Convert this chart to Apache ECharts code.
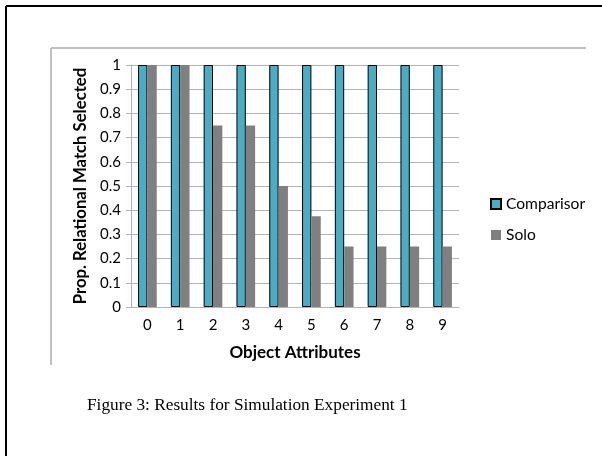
<!DOCTYPE html>
<html>
<head>
<meta charset="utf-8">
<script src="https://cdn.jsdelivr.net/npm/echarts@6/dist/echarts.min.js"></script>
<style>
  html, body { margin: 0; padding: 0; background: #fff; }
  #chart { width: 602px; height: 456px; }
</style>
</head>
<body>
<div id="chart"></div>
<script>
const categories = ["0", "1", "2", "3", "4", "5", "6", "7", "8", "9"];
const comparisor = [1, 1, 1, 1, 1, 1, 1, 1, 1, 1];
const solo = [1, 1, 0.75, 0.75, 0.5, 0.375, 0.25, 0.25, 0.25, 0.25];
const caption = "Figure 3: Results for Simulation Experiment 1";

const chart = echarts.init(document.getElementById("chart"));
const font = "Lato";
const gridColor = "#B4B4B4";

const option = {
  animation: false,
  textStyle: { fontFamily: font },
  graphic: [
    // page frame
    { type: "line", shape: { x1: 6, y1: 6, x2: 602, y2: 6 }, style: { stroke: "#000", lineWidth: 2 } },
    { type: "line", shape: { x1: 6, y1: 6, x2: 6, y2: 456 }, style: { stroke: "#000", lineWidth: 2 } },
    // chart area frame
    { type: "line", shape: { x1: 51, y1: 48, x2: 586, y2: 48 }, style: { stroke: "#C0C0C0", lineWidth: 2 } },
    { type: "line", shape: { x1: 51, y1: 48, x2: 51, y2: 365 }, style: { stroke: "#C0C0C0", lineWidth: 2 } },
    {
      type: "text",
      left: 87,
      top: 397,
      style: { text: caption, font: "17.3px 'Liberation Serif'", fill: "#000" }
    }
  ],
  grid: { left: 131, top: 65, right: 143, bottom: 149 },
  legend: {
    orient: "vertical",
    left: 485,
    top: 190,
    itemWidth: 10,
    itemHeight: 10,
    itemGap: 13,
    icon: "rect",
    textStyle: { fontSize: 15.6, lineHeight: 18, color: "#000", fontFamily: font },
    data: ["Comparisor", "Solo"]
  },
  xAxis: {
    type: "category",
    data: categories,
    name: "Object Attributes",
    nameLocation: "middle",
    nameGap: 37,
    nameTextStyle: { fontWeight: "bold", fontSize: 17, color: "#000", fontFamily: font },
    axisLine: { lineStyle: { color: gridColor } },
    axisTick: { length: 5, lineStyle: { color: gridColor } },
    axisLabel: { fontSize: 15, color: "#000", margin: 11, fontFamily: font }
  },
  yAxis: {
    type: "value",
    min: 0,
    max: 1,
    interval: 0.1,
    name: "Prop. Relational Match Selected",
    nameLocation: "middle",
    nameGap: 41,
    nameTextStyle: { fontWeight: "bold", fontSize: 16.7, color: "#000", fontFamily: font },
    axisLine: { show: true, lineStyle: { color: gridColor } },
    axisTick: { show: true, length: 5, lineStyle: { color: gridColor } },
    axisLabel: { fontSize: 15, color: "#000", margin: 10, fontFamily: font },
    splitLine: { lineStyle: { color: gridColor } }
  },
  series: [
    {
      name: "Comparisor",
      type: "bar",
      data: comparisor,
      barGap: "0%",
      barCategoryGap: "43%",
      itemStyle: { color: "#4BACC6", borderColor: "#000", borderWidth: 1 }
    },
    {
      name: "Solo",
      type: "bar",
      data: solo,
      itemStyle: { color: "#808080" }
    }
  ]
};

chart.setOption(option);
</script>
</body>
</html>
